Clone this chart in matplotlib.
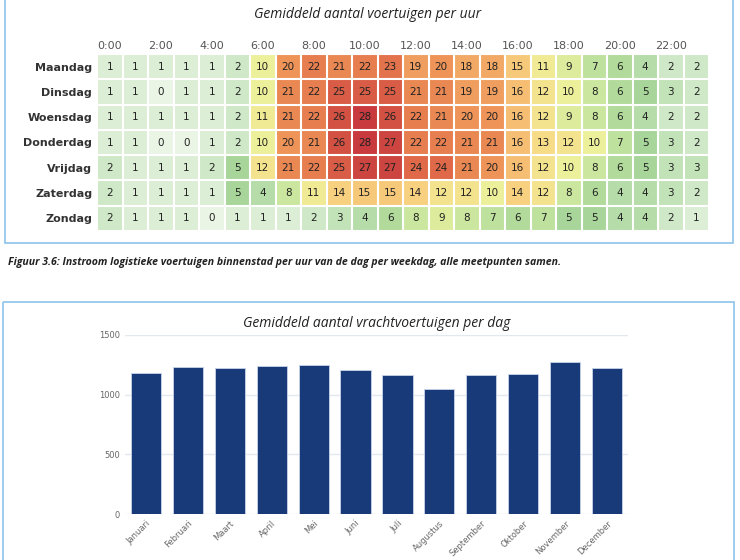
import matplotlib
matplotlib.use("Agg")
import matplotlib.pyplot as plt
import numpy as np
from matplotlib.colors import LinearSegmentedColormap
from matplotlib.patches import Rectangle

days = ["Maandag", "Dinsdag", "Woensdag", "Donderdag", "Vrijdag", "Zaterdag", "Zondag"]
hour_labels = ["0:00", "2:00", "4:00", "6:00", "8:00", "10:00", "12:00", "14:00", "16:00", "18:00", "20:00", "22:00"]
maandag   = [1,1,1,1,1,2,10,20,22,21,22,23,19,20,18,18,15,11,9,7,6,4,2,2]
dinsdag   = [1,1,0,1,1,2,10,21,22,25,25,25,21,21,19,19,16,12,10,8,6,5,3,2]
woensdag  = [1,1,1,1,1,2,11,21,22,26,28,26,22,21,20,20,16,12,9,8,6,4,2,2]
donderdag = [1,1,0,0,1,2,10,20,21,26,28,27,22,22,21,21,16,13,12,10,7,5,3,2]
vrijdag   = [2,1,1,1,2,5,12,21,22,25,27,27,24,24,21,20,16,12,10,8,6,5,3,3]
zaterdag  = [2,1,1,1,1,5,4,8,11,14,15,15,14,12,12,10,14,12,8,6,4,4,3,2]
zondag    = [2,1,1,1,0,1,1,1,2,3,4,6,8,9,8,7,6,7,5,5,4,4,2,1]

months = ["Januari","Februari","Maart","April","Mei","Juni","Juli","Augustus","September","Oktober","November","December"]
trucks = [1180,1230,1225,1240,1250,1205,1165,1050,1165,1170,1270,1220]

data = np.array([maandag, dinsdag, woensdag, donderdag, vrijdag, zaterdag, zondag])

W, H = 740, 560
fig = plt.figure(figsize=(W/100, H/100), dpi=100)
fig.patch.set_facecolor("white")

def ax_px(x0, y0, x1, y1):
    return fig.add_axes([x0/W, 1-y1/H, (x1-x0)/W, (y1-y0)/H])

# panel borders
bg = fig.add_axes([0, 0, 1, 1]); bg.set_xlim(0, W); bg.set_ylim(H, 0); bg.axis("off")
bg.add_patch(Rectangle((5, -2), 728, 245, fill=False, ec="#8ec3ea", lw=1.2))
bg.add_patch(Rectangle((3, 302), 731, 262, fill=False, ec="#8ec3ea", lw=1.2))
bg.text(368, 15, "Gemiddeld aantal voertuigen per uur", ha="center", va="center",
        fontsize=10, style="italic", fontfamily="Open Sans", color="#222")
bg.text(8, 263, "Figuur 3.6: Instroom logistieke voertuigen binnenstad per uur van de dag per weekdag, alle meetpunten samen.",
        ha="left", va="center", fontsize=7.6, style="italic", fontweight="bold", fontfamily="Open Sans", color="#222")

cmap = LinearSegmentedColormap.from_list("c", [
    (0/28, "#eaf5e6"), (5/28, "#a8d69a"), (8/28, "#cbe7a0"), (10/28, "#eef19a"),
    (13/28, "#f8dc88"), (16/28, "#f6bf74"), (20/28, "#ef9458"), (24/28, "#e06a49"),
    (28/28, "#c83a3e")])

ax = ax_px(97, 54, 709, 231)
ax.imshow(data, cmap=cmap, vmin=0, vmax=28, aspect="auto")
for i in range(data.shape[0]):
    for j in range(data.shape[1]):
        ax.text(j, i, str(data[i, j]), ha="center", va="center", fontsize=7.5, color="#222")
ax.set_xticks(np.arange(24)[::2], hour_labels)
ax.set_xticks(np.arange(-0.5, 24, 1), minor=True)
ax.set_yticks(np.arange(-0.5, 7, 1), minor=True)
ax.grid(which="minor", color="white", lw=1.5)
ax.tick_params(which="both", length=0)
ax.xaxis.tick_top()
ax.tick_params(axis="x", labelsize=8, colors="#555", pad=2)
ax.set_yticks(range(7), days)
ax.tick_params(axis="y", labelsize=8)
for lab in ax.get_yticklabels():
    lab.set_fontweight("bold"); lab.set_color("#333")
for s in ax.spines.values():
    s.set_visible(False)

# bar chart
bx = ax_px(125, 335, 628, 514)
bx.bar(range(12), trucks, width=0.72, color="#193a78", edgecolor="#c8d4ea", lw=0.6, zorder=3)
bx.set_ylim(0, 1500)
bx.set_xlim(-0.5, 11.5)
bx.set_yticks([0, 500, 1000, 1500])
bx.grid(axis="y", color="#e3e7ee", lw=1, zorder=0)
bx.set_xticks(range(12), months, rotation=45, ha="right", rotation_mode="anchor")
bx.tick_params(length=0, labelsize=6, colors="#666")
for s in bx.spines.values():
    s.set_visible(False)
bx.set_title("Gemiddeld aantal vrachtvoertuigen per dag", fontsize=10, style="italic",
             fontfamily="Open Sans", color="#222", pad=6)

fig.savefig("out.png", dpi=100, facecolor="white")
